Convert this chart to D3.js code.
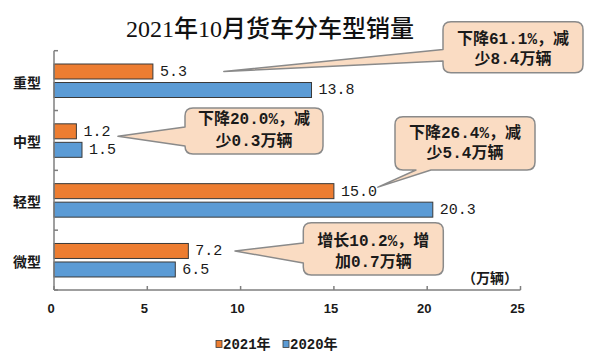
<!DOCTYPE html>
<html><head><meta charset="utf-8">
<script src="https://cdn.jsdelivr.net/npm/d3@7"></script>
<style>
html,body{margin:0;padding:0;background:#fff;}
svg{display:block;}
</style></head>
<body>
<svg id="chart" width="600" height="358"></svg>
<script>
// ---- data ----
const categories = ["重型", "中型", "轻型", "微型"];
const seriesNames = ["2021年", "2020年"];
const values2021 = [5.3, 1.2, 15.0, 7.2];
const values2020 = [13.8, 1.5, 20.3, 6.5];
const xTicks = [0, 5, 10, 15, 20, 25];
const titleText = "2021年10月货车分车型销量";
const unitText = "（万辆）";
const calloutLines = [
  ["下降61.1%，减", "少8.4万辆"],
  ["下降20.0%，减", "少0.3万辆"],
  ["下降26.4%，减", "少5.4万辆"],
  ["增长10.2%，增", "加0.7万辆"]
];

// ---- layout ----
const svg = d3.select("#chart");
const colors = {"2021年": "#ED7D31", "2020年": "#5B9BD5"};
const x = d3.scaleLinear().domain([0, 25]).range([54, 520.5]);
const y = d3.scaleBand().domain(categories).range([50.7, 290]);
const ySub = d3.scaleBand().domain(seriesNames).range([13.3, 46.8]).paddingInner(0.19);

const rows = categories.map((c, i) => ({cat: c, vals: [
  {s: seriesNames[0], v: values2021[i]},
  {s: seriesNames[1], v: values2020[i]}
]}));

const numFont = "'Liberation Mono', 'Noto Sans CJK SC', monospace";
const cjkFont = "'Noto Sans CJK SC', sans-serif";

// title
svg.append("text")
  .attr("x", 270).attr("y", 29)
  .attr("text-anchor", "middle").attr("dominant-baseline", "central")
  .style("font-family", "'Liberation Serif', 'Noto Sans CJK SC', serif")
  .style("font-size", "24px").style("font-weight", 500)
  .attr("fill", "#111").text(titleText);

// bars
const g = svg.append("g");
const groups = g.selectAll("g.row").data(rows).join("g")
  .attr("transform", d => `translate(0,${y(d.cat)})`);
groups.selectAll("rect").data(d => d.vals).join("rect")
  .attr("x", x(0)).attr("y", d => ySub(d.s))
  .attr("width", d => x(d.v) - x(0)).attr("height", ySub.bandwidth())
  .attr("fill", d => colors[d.s]).attr("stroke", "#3a3a3a").attr("stroke-width", 1);
groups.selectAll("text.val").data(d => d.vals).join("text")
  .attr("class", "val")
  .attr("x", d => x(d.v) + 7).attr("y", d => ySub(d.s) + ySub.bandwidth() / 2 + 1)
  .attr("dominant-baseline", "central")
  .style("font-family", numFont).style("font-size", "15px")
  .attr("fill", "#1a1a1a").text(d => d.v.toFixed(1));

// category axis
const axisColor = "#7f7f7f";
svg.append("line").attr("x1", x(0)).attr("x2", x(0)).attr("y1", y.range()[0]).attr("y2", y.range()[1])
  .attr("stroke", axisColor).attr("stroke-width", 1.5);
const bounds = categories.map(c => y(c)).concat([y.range()[1]]);
svg.selectAll("line.ctick").data(bounds).join("line").attr("class", "ctick")
  .attr("x1", x(0)).attr("x2", x(0) + 4).attr("y1", d => d).attr("y2", d => d)
  .attr("stroke", axisColor).attr("stroke-width", 1.5);
svg.selectAll("text.cat").data(categories).join("text").attr("class", "cat")
  .attr("x", 41).attr("y", d => y(d) + y.bandwidth() / 2 + 1)
  .attr("text-anchor", "end").attr("dominant-baseline", "central")
  .style("font-family", cjkFont).style("font-size", "14px").style("font-weight", 700)
  .attr("fill", "#1a1a1a").text(d => d);

// value axis
const axisY = y.range()[1];
svg.append("line").attr("x1", x(0)).attr("x2", x(25)).attr("y1", axisY).attr("y2", axisY)
  .attr("stroke", axisColor).attr("stroke-width", 1.5);
svg.selectAll("line.vtick").data(xTicks).join("line").attr("class", "vtick")
  .attr("x1", d => x(d)).attr("x2", d => x(d)).attr("y1", axisY - 4).attr("y2", axisY)
  .attr("stroke", axisColor).attr("stroke-width", 1.5);
svg.selectAll("text.vt").data(xTicks).join("text").attr("class", "vt")
  .attr("x", d => x(d) - 3).attr("y", axisY + 18)
  .attr("text-anchor", "middle").attr("dominant-baseline", "central")
  .style("font-family", "'Liberation Sans', Arial, sans-serif").style("font-size", "13px").style("font-weight", 700)
  .attr("fill", "#1a1a1a").text(d => d);
svg.append("text").attr("x", 490).attr("y", 277)
  .attr("text-anchor", "middle").attr("dominant-baseline", "central")
  .style("font-family", cjkFont).style("font-size", "14px").style("font-weight", 700)
  .attr("fill", "#1a1a1a").text(unitText);

// callouts
function leftCallout(b, ya, yb, tx, ty) {
  const r = 8, x0 = b[0], y0 = b[1], x1 = b[2], y1 = b[3];
  return `M${x0 + r},${y0} H${x1 - r} Q${x1},${y0} ${x1},${y0 + r} V${y1 - r} Q${x1},${y1} ${x1 - r},${y1} H${x0 + r} Q${x0},${y1} ${x0},${y1 - r} V${yb} L${tx},${ty} L${x0},${ya} V${y0 + r} Q${x0},${y0} ${x0 + r},${y0} Z`;
}
function bottomCallout(b, xa, xb, tx, ty) {
  const r = 8, x0 = b[0], y0 = b[1], x1 = b[2], y1 = b[3];
  return `M${x0 + r},${y0} H${x1 - r} Q${x1},${y0} ${x1},${y0 + r} V${y1 - r} Q${x1},${y1} ${x1 - r},${y1} H${xb} L${tx},${ty} L${xa},${y1} H${x0 + r} Q${x0},${y1} ${x0},${y1 - r} V${y0 + r} Q${x0},${y0} ${x0 + r},${y0} Z`;
}
const barMid = (i, s) => y(categories[i]) + ySub(s) + ySub.bandwidth() / 2;
const callouts = [
  {box: [443, 21.7, 583, 72.7], side: "left", a: 49.5, b: 61, tip: [x(9.1), barMid(0, "2021年")], ty: [40, 59.5]},
  {box: [185, 108, 323, 154], side: "left", a: 127, b: 146, tip: [x(3.43), barMid(1, "2021年") + 5], ty: [120, 141.5]},
  {box: [395, 116.7, 535, 170], side: "bottom", a: 416, b: 431, tip: [x(17.36), barMid(2, "2021年") - 4], ty: [133.5, 153.5]},
  {box: [303.3, 222.7, 443.3, 275], side: "left", a: 243, b: 263, tip: [x(9.7), barMid(3, "2021年")], ty: [241.7, 262.7]}
];
callouts.forEach((c, i) => {
  const p = c.side === "left" ? leftCallout(c.box, c.a, c.b, c.tip[0], c.tip[1])
                              : bottomCallout(c.box, c.a, c.b, c.tip[0], c.tip[1]);
  svg.append("path").attr("d", p).attr("fill", "#FADCC3")
    .attr("stroke", "#8a8a8a").attr("stroke-width", 1.5).attr("stroke-linejoin", "round");
  const cx = (c.box[0] + c.box[2]) / 2;
  calloutLines[i].forEach((t, j) => {
    svg.append("text").attr("x", cx).attr("y", c.ty[j])
      .attr("text-anchor", "middle").attr("dominant-baseline", "central")
      .style("font-family", numFont).style("font-size", "16px").style("font-weight", 700)
      .attr("fill", "#1a1a1a").text(t);
  });
});

// legend
const legend = svg.append("g");
const legendItems = [{s: seriesNames[0], x: 216}, {s: seriesNames[1], x: 283}];
legendItems.forEach(it => {
  legend.append("rect").attr("x", it.x).attr("y", 340.5).attr("width", 6).attr("height", 7)
    .attr("fill", colors[it.s]).attr("stroke", "#3a3a3a").attr("stroke-width", 0.8);
  legend.append("text").attr("x", it.x + 7).attr("y", 344.5)
    .attr("dominant-baseline", "central")
    .style("font-family", numFont).style("font-size", "14px").style("font-weight", 700)
    .attr("fill", "#1a1a1a").text(it.s);
});
</script>
</body></html>
